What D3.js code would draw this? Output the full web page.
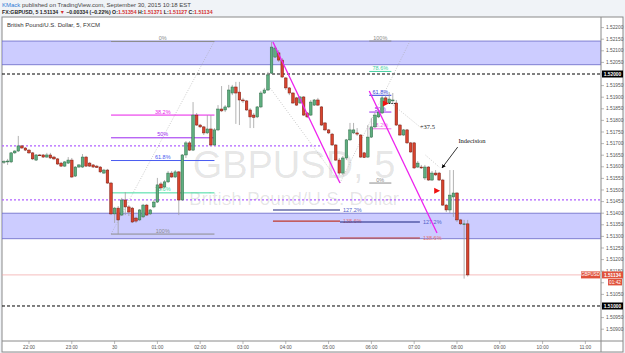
<!DOCTYPE html>
<html>
<head>
<meta charset="utf-8">
<script src="https://d3js.org/d3.v7.min.js"></script>
<title>GBPUSD 5 min</title>
<style>
  body { margin: 0; background: #f0f3f7; }
  svg { display: block; font-family: "Liberation Sans", Arial, sans-serif; }
</style>
</head>
<body>
<div id="chart"></div>
<script>
var width = 625, height = 353;

// 5 minute bars, index 0 = 22:00 (Sept 29), first bar is 21:25
var firstBar = -7;
var opens = [
  1.51621,1.51621,1.51621,1.51660,1.51668,1.51690,1.51681,
  1.51672,1.51660,1.51629,1.51651,1.51651,1.51642,1.51651,1.51642,1.51634,1.51616,
  1.51603,1.51616,1.51629,1.51560,1.51599,1.51599,1.51642,1.51616,1.51608,1.51603,
  1.51599,1.51573,1.51586,1.51530,1.51397,1.51422,1.51392,1.51457,1.51427,1.51422,
  1.51379,1.51371,1.51384,1.51435,1.51397,1.51427,1.51448,1.51526,1.51513,1.51535,
  1.51573,1.51556,1.51578,1.51457,1.51651,1.51703,1.51672,1.51823,1.51780,1.51772,
  1.51746,1.51763,1.51694,1.51759,1.51849,1.51845,1.51858,1.51918,1.51944,1.51922,
  1.51888,1.51884,1.51845,1.51823,1.51815,1.51858,1.51918,1.51931,1.52004,1.52073,
  1.52091,1.52060,1.51983,1.51940,1.51918,1.51897,1.51875,1.51901,1.51832,1.51823,
  1.51866,1.51888,1.51858,1.51789,1.51759,1.51741,1.51694,1.51629,1.51573,1.51638,
  1.51716,1.51746,1.51746,1.51737,1.51660,1.51642,1.51728,1.51772,1.51815,1.51832,
  1.51897,1.51875,1.51884,1.51875,1.51780,1.51737,1.51759,1.51703,1.51703,1.51599,
  1.51599,1.51552,1.51599,1.51543,1.51573,1.51573,1.51543,1.51435,1.51414,1.51470,
  1.51487,1.51371,1.51354,1.51354
];
var highs = [
  1.51629,1.51634,1.51664,1.51672,1.51733,1.51694,1.51685,
  1.51677,1.51664,1.51655,1.51655,1.51655,1.51660,1.51660,1.51647,1.51638,1.51621,
  1.51625,1.51642,1.51638,1.51603,1.51612,1.51655,1.51647,1.51621,1.51612,1.51608,
  1.51603,1.51591,1.51591,1.51535,1.51427,1.51431,1.51466,1.51491,1.51435,1.51427,
  1.51384,1.51418,1.51440,1.51440,1.51418,1.51457,1.51552,1.51535,1.51543,1.51582,
  1.51582,1.51586,1.51582,1.51655,1.51711,1.51711,1.51879,1.51832,1.51785,1.51776,
  1.51823,1.51823,1.51767,1.51866,1.51948,1.51866,1.51953,1.51953,1.51966,1.51966,
  1.51897,1.51888,1.51853,1.51832,1.51862,1.51927,1.51940,1.52009,1.52138,1.52121,
  1.52103,1.52069,1.51987,1.51944,1.51922,1.51901,1.51905,1.51905,1.51836,1.51888,
  1.51892,1.51897,1.51862,1.51793,1.51763,1.51746,1.51698,1.51638,1.51647,1.51720,
  1.51789,1.51789,1.51767,1.51741,1.51664,1.51780,1.51810,1.51832,1.51845,1.51905,
  1.51909,1.51922,1.51918,1.51888,1.51785,1.51763,1.51763,1.51707,1.51707,1.51625,
  1.51608,1.51608,1.51603,1.51582,1.51586,1.51578,1.51548,1.51440,1.51586,1.51586,
  1.51491,1.51375,1.51371,1.51371
];
var lows = [
  1.51612,1.51608,1.51616,1.51655,1.51664,1.51677,1.51668,
  1.51655,1.51629,1.51625,1.51647,1.51638,1.51638,1.51634,1.51629,1.51608,1.51599,
  1.51599,1.51612,1.51552,1.51556,1.51595,1.51595,1.51599,1.51599,1.51595,1.51595,
  1.51573,1.51569,1.51526,1.51392,1.51358,1.51310,1.51388,1.51392,1.51388,1.51358,
  1.51358,1.51366,1.51379,1.51388,1.51392,1.51422,1.51444,1.51500,1.51509,1.51530,
  1.51552,1.51552,1.51392,1.51453,1.51638,1.51668,1.51668,1.51776,1.51767,1.51737,
  1.51741,1.51690,1.51690,1.51754,1.51836,1.51836,1.51853,1.51909,1.51785,1.51780,
  1.51875,1.51841,1.51767,1.51767,1.51810,1.51853,1.51914,1.51927,1.52000,1.52069,
  1.52052,1.51983,1.51931,1.51909,1.51871,1.51862,1.51871,1.51819,1.51810,1.51819,
  1.51862,1.51862,1.51776,1.51754,1.51741,1.51690,1.51625,1.51565,1.51565,1.51629,
  1.51711,1.51741,1.51733,1.51638,1.51638,1.51638,1.51724,1.51767,1.51810,1.51828,
  1.51871,1.51871,1.51871,1.51776,1.51733,1.51733,1.51698,1.51660,1.51591,1.51595,
  1.51591,1.51543,1.51539,1.51539,1.51560,1.51539,1.51431,1.51405,1.51401,1.51384,
  1.51362,1.51349,1.51118,1.51127
];
var closes = [
  1.51623,1.51625,1.51660,1.51668,1.51690,1.51681,1.51672,
  1.51660,1.51634,1.51651,1.51649,1.51642,1.51651,1.51638,1.51634,1.51612,1.51603,
  1.51621,1.51629,1.51556,1.51599,1.51608,1.51642,1.51603,1.51603,1.51599,1.51597,
  1.51578,1.51586,1.51530,1.51397,1.51422,1.51371,1.51457,1.51427,1.51405,1.51362,
  1.51366,1.51414,1.51435,1.51392,1.51414,1.51448,1.51522,1.51509,1.51535,1.51573,
  1.51556,1.51578,1.51457,1.51651,1.51703,1.51672,1.51823,1.51780,1.51772,1.51746,
  1.51763,1.51694,1.51759,1.51849,1.51841,1.51858,1.51931,1.51944,1.51918,1.51888,
  1.51884,1.51845,1.51815,1.51813,1.51858,1.51918,1.51931,1.51996,1.52116,1.52112,
  1.52060,1.51987,1.51940,1.51918,1.51875,1.51866,1.51901,1.51823,1.51815,1.51879,
  1.51888,1.51866,1.51780,1.51759,1.51746,1.51694,1.51629,1.51573,1.51638,1.51716,
  1.51759,1.51759,1.51741,1.51642,1.51640,1.51728,1.51772,1.51823,1.51836,1.51897,
  1.51875,1.51892,1.51888,1.51780,1.51737,1.51759,1.51703,1.51664,1.51595,1.51616,
  1.51595,1.51599,1.51543,1.51573,1.51565,1.51543,1.51435,1.51414,1.51478,1.51487,
  1.51371,1.51354,1.51354,1.51134
];

// axis labels
var hourLabels = ["22:00","23:00","30","01:00","02:00","03:00","04:00","05:00",
                  "06:00","07:00","08:00","09:00","10:00","11:00"];
var priceTicks = d3.range(1.509, 1.52201, 0.0005);

// drawings (time in minutes from 22:00, price)
var zones = [[1.52142, 1.52040], [1.51400, 1.51290]];
var roundLevels = [1.52000, 1.51000];
var dottedLevels = [{p: 1.51690, end: 408}, {p: 1.51457, end: null}];
var lastPrice = 1.51134;

var fibLeft = {t0: 115, t1: 260, top: 1.52140, bottom: 1.51310,
  levels: [0, 0.382, 0.5, 0.618, 0.786, 1],
  labels: ["0%", "38.2%", "50%", "61.8%", "78.6%", "100%"],
  colors: ["#8c8c8c", "#e91ee9", "#9c27f0", "#4a5cf0", "#40dca0", "#8c8c8c"]};
var fibRight = {t0: 477, t1: 508, top: 1.52142, bottom: 1.51530,
  levels: [1, 0.786, 0.618, 0.5, 0.382, 0],
  labels: ["100%", "78.6%", "61.8%", "50%", "38.2%", "0%"],
  colors: ["#8c8c8c", "#40d0a0", "#3040d8", "#9c27f0", "#f06ee8", "#8c8c8c"]};
var extensions = [
  {t0: 342, t1: 436, prices: [1.51414, 1.51366]},
  {t0: 436, t1: 548, prices: [1.51362, 1.51293]}
];
var extLabels = ["127.2%", "138.6%"];
var trendLines = [
  {a: [342, 1.52138], b: [436, 1.51530]},
  {a: [477, 1.51927], b: [572, 1.51315]}
];
var guideLines = [
  {a: [115, 1.51310], b: [260, 1.52142]},
  {a: [436, 1.51530], b: [534, 1.52142]},
  {a: [338, 1.51940], b: [436, 1.51530]},
  {a: [508, 1.51873], b: [550, 1.51767]},
  {a: [556, 1.51650], b: [575, 1.51599]}
];
var flags = [[496, 1.51873], [568, 1.51497]];

var svg = d3.select('#chart').append('svg').attr('width', width).attr('height', height);

var plotLeft = 2, plotRight = 601, plotTop = 17, plotBottom = 341;
var x = d3.scaleLinear().domain([-37.85, 801.9]).range([plotLeft, plotRight]);
var y = d3.scaleLinear().domain([1.508491, 1.522457]).range([plotBottom, plotTop]);
var fmt = d3.format('.5f');

// header
var head = svg.append('text').attr('x', 2).attr('y', 7).attr('font-size', '6px').attr('fill', '#444');
head.append('tspan').attr('fill', '#2f7ad6').text('KMack');
head.append('tspan').text(' published on TradingView.com, September 30, 2015 10:18 EST');

var sub = svg.append('text').attr('x', 2).attr('y', 14).attr('font-size', '5.2px').attr('font-weight', 'bold').attr('fill', '#222');
sub.append('tspan').text('FX:GBPUSD, 5  1.51134 ');
sub.append('tspan').attr('fill', '#d32f2f').text('\u25BC');
sub.append('tspan').text(' \u22120.00334 (\u22120.22%)  O:');
sub.append('tspan').attr('fill', '#d32f2f').text('1.51354');
sub.append('tspan').text(' H:');
sub.append('tspan').attr('fill', '#d32f2f').text('1.51371');
sub.append('tspan').text(' L:');
sub.append('tspan').attr('fill', '#d32f2f').text('1.51127');
sub.append('tspan').text(' C:');
sub.append('tspan').attr('fill', '#d32f2f').text('1.51134');

// panel
svg.append('rect').attr('x', plotLeft).attr('y', plotTop).attr('width', 623 - plotLeft).attr('height', 352 - plotTop)
  .attr('fill', '#fff').attr('stroke', '#8a8a8a').attr('stroke-width', 1);

var defs = svg.append('defs');
defs.append('clipPath').attr('id', 'clip').append('rect')
  .attr('x', plotLeft).attr('y', plotTop).attr('width', plotRight - plotLeft).attr('height', plotBottom - plotTop);
defs.append('marker').attr('id', 'arrow').attr('viewBox', '0 0 10 10').attr('refX', 9).attr('refY', 5)
  .attr('markerWidth', 5).attr('markerHeight', 5).attr('orient', 'auto')
  .append('path').attr('d', 'M0,0L10,5L0,10z').attr('fill', '#000');

var g = svg.append('g').attr('clip-path', 'url(#clip)');

// zones
g.selectAll('.zone').data(zones).enter().append('rect')
  .attr('x', plotLeft).attr('width', plotRight - plotLeft)
  .attr('y', function(d) { return y(d[0]); })
  .attr('height', function(d) { return y(d[1]) - y(d[0]); })
  .attr('fill', '#ccccff').attr('stroke', '#7474cc').attr('stroke-width', 0.9);

// watermark
g.append('text').attr('x', 294).attr('y', y(1.51550)).attr('text-anchor', 'middle')
  .attr('font-size', '38px').attr('fill', '#000').attr('fill-opacity', 0.11).text('GBPUSD, 5');
g.append('text').attr('x', 294).attr('y', y(1.51435)).attr('text-anchor', 'middle')
  .attr('font-size', '19px').attr('fill', '#000').attr('fill-opacity', 0.11).text('British Pound/U.S. Dollar');

// horizontal levels
g.selectAll('.round').data(roundLevels).enter().append('line')
  .attr('x1', plotLeft).attr('x2', plotRight)
  .attr('y1', function(d) { return y(d); }).attr('y2', function(d) { return y(d); })
  .attr('stroke', '#000').attr('stroke-width', 1).attr('stroke-dasharray', '3,2');
g.selectAll('.dotted').data(dottedLevels).enter().append('line')
  .attr('x1', plotLeft).attr('x2', function(d) { return d.end === null ? plotRight : x(d.end); })
  .attr('y1', function(d) { return y(d.p); }).attr('y2', function(d) { return y(d.p); })
  .attr('stroke', '#b060ff').attr('stroke-width', 1.3).attr('stroke-dasharray', '2,2');
g.append('line').attr('x1', plotLeft).attr('x2', plotRight)
  .attr('y1', y(lastPrice)).attr('y2', y(lastPrice))
  .attr('stroke', '#f0a0a0').attr('stroke-width', 0.7);

// guide dotted lines
g.selectAll('.guide').data(guideLines).enter().append('line')
  .attr('x1', function(d) { return x(d.a[0]); }).attr('y1', function(d) { return y(d.a[1]); })
  .attr('x2', function(d) { return x(d.b[0]); }).attr('y2', function(d) { return y(d.b[1]); })
  .attr('stroke', '#a8a8a8').attr('stroke-width', 0.6).attr('stroke-dasharray', '1,1.5');

// fib retracements
function drawFib(f) {
  var mid = (x(f.t0) + x(f.t1)) / 2;
  f.levels.forEach(function(l, k) {
    var p = f.top - l * (f.top - f.bottom);
    if (f === fibRight) p = f.bottom + l * (f.top - f.bottom);
    g.append('line').attr('x1', x(f.t0)).attr('x2', x(f.t1)).attr('y1', y(p)).attr('y2', y(p))
      .attr('stroke', f.colors[k]).attr('stroke-width', 1);
    g.append('text').attr('x', mid).attr('y', y(p) - 1.5).attr('text-anchor', 'middle')
      .attr('font-size', '5.5px').attr('fill', f.colors[k]).text(f.labels[k]);
  });
}
drawFib(fibLeft);
drawFib(fibRight);

// fib extensions
extensions.forEach(function(e) {
  e.prices.forEach(function(p, k) {
    g.append('line').attr('x1', x(e.t0)).attr('x2', x(e.t1)).attr('y1', y(p)).attr('y2', y(p))
      .attr('stroke', k === 0 ? '#1a237e' : '#c0392b').attr('stroke-width', 1.1);
    g.append('text').attr('x', x(e.t1) + 3).attr('y', y(p)).attr('dy', '0.35em')
      .attr('font-size', '5.5px').attr('fill', k === 0 ? '#5060c8' : '#e57373').text(extLabels[k]);
  });
});

// candles
var bars = opens.map(function(o, k) {
  return {t: (firstBar + k) * 5, o: o, h: highs[k], l: lows[k], c: closes[k]};
});
var bw = 2.6;
var candle = g.selectAll('.candle').data(bars).enter().append('g');
candle.append('line')
  .attr('x1', function(d) { return x(d.t); }).attr('x2', function(d) { return x(d.t); })
  .attr('y1', function(d) { return y(d.h); }).attr('y2', function(d) { return y(d.l); })
  .attr('stroke', '#a0a0a0').attr('stroke-width', 0.8);
candle.append('rect')
  .attr('x', function(d) { return x(d.t) - bw / 2; }).attr('width', bw)
  .attr('y', function(d) { return y(Math.max(d.o, d.c)); })
  .attr('height', function(d) { return Math.max(0.8, Math.abs(y(d.o) - y(d.c))); })
  .attr('fill', function(d) { return d.c >= d.o ? '#5fae80' : '#d8442e'; })
  .attr('stroke', function(d) { return d.c >= d.o ? '#2c6a45' : '#7a1a10'; })
  .attr('stroke-width', 0.5);

// trend lines
g.selectAll('.trend').data(trendLines).enter().append('line')
  .attr('x1', function(d) { return x(d.a[0]); }).attr('y1', function(d) { return y(d.a[1]); })
  .attr('x2', function(d) { return x(d.b[0]); }).attr('y2', function(d) { return y(d.b[1]); })
  .attr('stroke', '#ee22ee').attr('stroke-width', 1.3);

// flags
g.selectAll('.flag').data(flags).enter().append('path')
  .attr('d', function(d) { var fx = x(d[0]), fy = y(d[1]); return 'M' + fx + ',' + (fy - 3) + 'L' + (fx + 6) + ',' + fy + 'L' + fx + ',' + (fy + 3) + 'Z'; })
  .attr('fill', '#f01010');
g.append('line').attr('x1', x(flags[0][0]) + 6).attr('x2', x(flags[0][0]) + 13)
  .attr('y1', y(flags[0][1])).attr('y2', y(flags[0][1]))
  .attr('stroke', '#000').attr('stroke-width', 0.8).attr('stroke-dasharray', '1.5,1');

// notes
g.append('text').attr('x', x(548)).attr('y', y(1.51763)).attr('font-family', '"Liberation Serif", serif')
  .attr('font-size', '6.5px').attr('fill', '#222').text('+37.5');
g.append('text').attr('x', x(602)).attr('y', y(1.51703)).attr('font-family', '"Liberation Serif", serif')
  .attr('font-size', '6.5px').attr('fill', '#111').text('Indecision');
g.append('line').attr('x1', x(601)).attr('y1', y(1.51685)).attr('x2', x(579)).attr('y2', y(1.51595))
  .attr('stroke', '#000').attr('stroke-width', 0.8).attr('marker-end', 'url(#arrow)');

// chart title
svg.append('text').attr('x', 7).attr('y', 27).attr('font-size', '6px').attr('fill', '#333')
  .text('British Pound/U.S. Dollar, 5, FXCM');

// separators
svg.append('line').attr('x1', plotRight).attr('x2', plotRight).attr('y1', plotTop).attr('y2', 352).attr('stroke', '#8a8a8a');
svg.append('line').attr('x1', plotLeft).attr('x2', 623).attr('y1', plotBottom).attr('y2', plotBottom).attr('stroke', '#8a8a8a');

// price axis (labels hidden where a tag covers them)
function covered(d) {
  return [1.52, 1.51, 1.511].some(function(p) { return Math.abs(d - p) < 1e-6; });
}
var py = svg.append('g').selectAll('g').data(priceTicks).enter().append('g');
py.append('line').attr('x1', plotRight).attr('x2', plotRight + 3)
  .attr('y1', function(d) { return y(d); }).attr('y2', function(d) { return y(d); })
  .attr('stroke', '#8a8a8a').attr('stroke-width', 0.6);
py.filter(function(d) { return !covered(d); }).append('text')
  .attr('x', plotRight + 5).attr('y', function(d) { return y(d); }).attr('dy', '0.35em')
  .attr('font-size', '4.8px').attr('fill', '#555')
  .text(function(d) { return fmt(d); });

roundLevels.forEach(function(p) {
  svg.append('rect').attr('x', plotRight + 1).attr('y', y(p) - 3.5).attr('width', 21).attr('height', 7).attr('fill', '#000');
  svg.append('text').attr('x', plotRight + 11.5).attr('y', y(p)).attr('dy', '0.35em').attr('text-anchor', 'middle')
    .attr('font-size', '4.8px').attr('font-weight', 'bold').attr('fill', '#fff').text(fmt(p));
});

// last price labels
svg.append('rect').attr('x', 581).attr('y', y(lastPrice) - 3.5).attr('width', 19).attr('height', 7).attr('fill', '#e0523c');
svg.append('text').attr('x', 590.5).attr('y', y(lastPrice)).attr('dy', '0.35em').attr('text-anchor', 'middle')
  .attr('font-size', '4.5px').attr('fill', '#fff').text('GBPUSD');
svg.append('rect').attr('x', plotRight + 1).attr('y', y(lastPrice) - 3.5).attr('width', 21).attr('height', 7).attr('fill', '#e0523c');
svg.append('text').attr('x', plotRight + 11.5).attr('y', y(lastPrice)).attr('dy', '0.35em').attr('text-anchor', 'middle')
  .attr('font-size', '4.8px').attr('font-weight', 'bold').attr('fill', '#fff').text(fmt(lastPrice));
svg.append('rect').attr('x', 608).attr('y', y(lastPrice) + 4).attr('width', 14).attr('height', 6.5).attr('fill', '#e0523c');
svg.append('text').attr('x', 615).attr('y', y(lastPrice) + 7.3).attr('dy', '0.35em').attr('text-anchor', 'middle')
  .attr('font-size', '4.8px').attr('fill', '#fff').text('01:42');

// time axis
var tx = svg.append('g').selectAll('g').data(hourLabels).enter().append('g');
tx.append('line').attr('x1', function(d, k) { return x(k * 60); }).attr('x2', function(d, k) { return x(k * 60); })
  .attr('y1', plotBottom).attr('y2', plotBottom + 3).attr('stroke', '#8a8a8a').attr('stroke-width', 0.6);
tx.append('text').attr('x', function(d, k) { return x(k * 60); }).attr('y', plotBottom + 8)
  .attr('text-anchor', 'middle').attr('font-size', '4.8px').attr('fill', '#555').text(function(d) { return d; });
</script>
</body>
</html>
